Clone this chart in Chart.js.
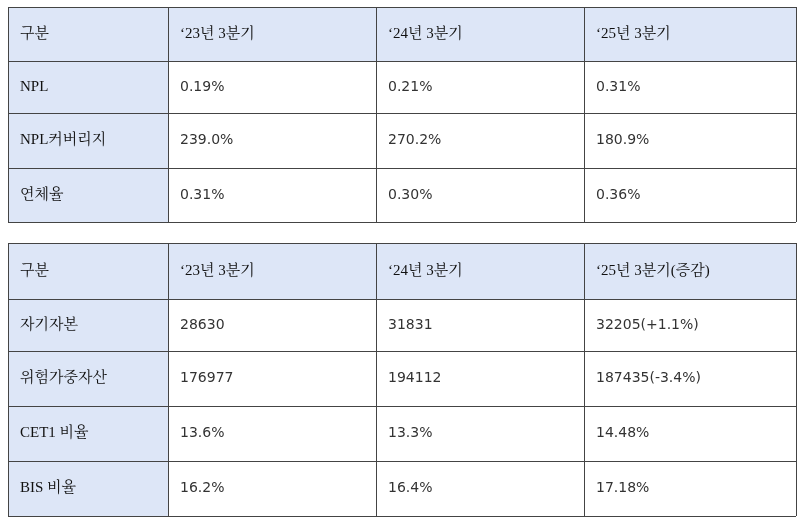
<!DOCTYPE html>
<html>
<head>
<meta charset="utf-8">
<script src="https://cdn.jsdelivr.net/npm/chart.js@4"></script>
<style>
  html, body { margin: 0; padding: 0; background: #fff; }
  #wrap { width: 800px; height: 527px; }
</style>
</head>
<body>
<div id="wrap"><canvas id="tableChart"></canvas></div>
<script>
// table 1
const header1 = ['구분', '‘23년 3분기', '‘24년 3분기', '‘25년 3분기'];
const rows1 = ['NPL', 'NPL커버리지', '연체율'];
const values1 = [
  ['0.19%', '0.21%', '0.31%'],
  ['239.0%', '270.2%', '180.9%'],
  ['0.31%', '0.30%', '0.36%']
];
// table 2
const header2 = ['구분', '‘23년 3분기', '‘24년 3분기', '‘25년 3분기(증감)'];
const rows2 = ['자기자본', '위험가중자산', 'CET1 비율', 'BIS 비율'];
const values2 = [
  ['28630', '31831', '32205(+1.1%)'],
  ['176977', '194112', '187435(-3.4%)'],
  ['13.6%', '13.3%', '14.48%'],
  ['16.2%', '16.4%', '17.18%']
];

// layout (in scale units = pixels)
const colEdges = [8, 168, 376, 584, 796];
const table1Rows = [7, 61, 113, 168, 222];
const table2Rows = [243, 299, 351, 406, 461, 516];

const labelFont = '15px "Liberation Serif", "Noto Serif CJK KR", "Noto Sans CJK KR", serif';
const valueFont = '14px "DejaVu Sans", "Noto Sans CJK KR", sans-serif';

const tablePlugin = {
  id: 'tablePlugin',
  afterDraw(chart) {
    const { ctx, scales: { x, y } } = chart;
    const drawTable = (header, rows, values, rowEdges) => {
      const px = colEdges.map(v => x.getPixelForValue(v));
      const py = rowEdges.map(v => y.getPixelForValue(v));
      ctx.save();
      ctx.fillStyle = '#dde6f7';
      ctx.fillRect(px[0], py[0], px[px.length - 1] - px[0], py[1] - py[0]);
      ctx.fillRect(px[0], py[1], px[1] - px[0], py[py.length - 1] - py[1]);
      ctx.textBaseline = 'middle';
      ctx.textAlign = 'left';
      header.forEach((h, i) => {
        ctx.font = labelFont;
        ctx.fillStyle = '#111';
        ctx.fillText(h, px[i] + 12, (py[0] + py[1]) / 2);
      });
      rows.forEach((r, j) => {
        const cy = (py[j + 1] + py[j + 2]) / 2;
        ctx.font = labelFont;
        ctx.fillStyle = '#111';
        ctx.fillText(r, px[0] + 12, cy);
        ctx.font = valueFont;
        ctx.fillStyle = '#333';
        values[j].forEach((v, i) => ctx.fillText(v, px[i + 1] + 12, cy));
      });
      ctx.strokeStyle = '#444';
      ctx.lineWidth = 1;
      ctx.beginPath();
      py.forEach(v => { ctx.moveTo(px[0], Math.round(v) + 0.5); ctx.lineTo(px[px.length - 1], Math.round(v) + 0.5); });
      px.forEach(v => { ctx.moveTo(Math.round(v) + 0.5, py[0]); ctx.lineTo(Math.round(v) + 0.5, py[py.length - 1]); });
      ctx.stroke();
      ctx.restore();
    };
    drawTable(header1, rows1, values1, table1Rows);
    drawTable(header2, rows2, values2, table2Rows);
  }
};

new Chart(document.getElementById('tableChart'), {
  type: 'scatter',
  data: { datasets: [{ data: [] }] },
  options: {
    responsive: true,
    maintainAspectRatio: false,
    animation: false,
    layout: { padding: 0 },
    plugins: { legend: { display: false }, tooltip: { enabled: false } },
    scales: {
      x: { type: 'linear', min: 0, max: 800, display: false },
      y: { type: 'linear', min: 0, max: 527, reverse: true, display: false }
    }
  },
  plugins: [tablePlugin]
});
</script>
</body>
</html>
